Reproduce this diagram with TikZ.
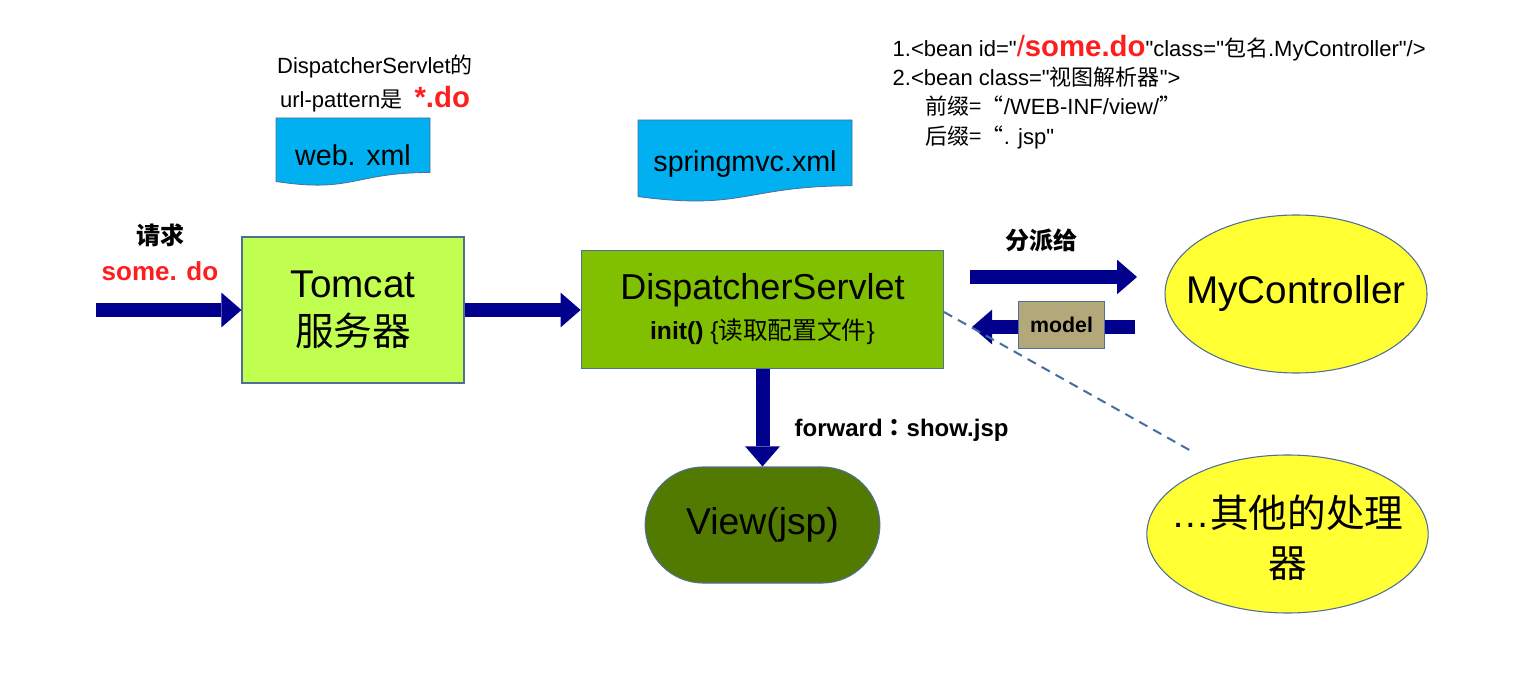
\documentclass[tikz,border=0pt]{standalone}
\usepackage{fontspec}
\setmainfont{Liberation Sans}[Ligatures=TeXOff]
\newfontfamily\cjk{Noto Sans CJK SC}
\newfontfamily\cjktc{Noto Sans CJK TC}
\usetikzlibrary{arrows.meta,shapes.geometric}
\definecolor{navy}{RGB}{0,0,140}
\definecolor{doccyan}{RGB}{0,176,240}
\definecolor{tomgreen}{RGB}{192,255,80}
\definecolor{dsgreen}{RGB}{128,192,0}
\definecolor{viewgreen}{RGB}{82,122,0}
\definecolor{ctrlyellow}{RGB}{255,255,51}
\definecolor{modeltan}{RGB}{178,168,122}
\definecolor{edgeblue}{RGB}{80,110,150}
\definecolor{dashblue}{RGB}{70,110,160}
\definecolor{redtxt}{RGB}{255,30,30}
\newcommand{\fs}[1]{\fontsize{#1}{#1}\selectfont}
\newcommand{\fsb}[2]{\fontsize{#1}{#2}\selectfont}
\begin{document}
\begin{tikzpicture}[x=0.75pt,y=-0.75pt,
  flow/.style={draw=navy,line width=10.5pt,-{Triangle[width=26pt,length=15pt,line width=0pt]}},
  boxstyle/.style={draw=edgeblue,line width=0.8pt,inner sep=0pt,align=center},
  docstyle/.style={draw=edgeblue,line width=0.6pt,fill=doccyan},
  ell/.style={ellipse,draw=edgeblue,line width=0.8pt,fill=ctrlyellow,inner sep=0pt}]
\useasboundingbox (0,0) rectangle (1533,673);
\fill[white] (0,0) rectangle (1533,673);

% documents
\draw[docstyle] (276,118) -- (430,118) -- (430,172.5) .. controls (353,172.5) and (353,193.3) .. (276,181.5) -- cycle;
\node (webtxt) at (353,155) {\fs{21.5}web. xml};
\draw[docstyle] (638,120) -- (852,120) -- (852,185.8) .. controls (745,185.8) and (745,210.8) .. (638,196.6) -- cycle;
\node (springtxt) at (745,164) {\fs{21.5}springmvc.xml};

% labels top
\node (dsl1) at (375,67) {\fs{16.5}DispatcherServlet{\cjk 的}};
\node (dsl2) at (375,99) {\fs{16.5}url-pattern{\cjk 是}\ \ {\fs{22}\bfseries\color{redtxt}*.do}};

\node[anchor=west] (b1) at (888,48) {\fs{16.5}1.<bean id="{\fs{22}\color{redtxt}/\bfseries some.do}"class="{\cjk 包名}.MyController"/>};
\node[anchor=west] (b2) at (888,77) {\fs{16.5}2.<bean class="{\cjk 视图解析器}">};
\node[anchor=west] (b3) at (921,106) {\fs{16.5}{\cjk 前缀=“}/WEB-INF/view/{\cjk ”}};
\node[anchor=west] (b4) at (921,137) {\fs{16.5}{\cjk 后缀=“}. jsp"};

% main nodes
\node[boxstyle,fill=tomgreen,minimum width=166.5pt,minimum height=109.5pt,font=\fsb{29}{36}] (tom) at (353,310)
  {Tomcat\\{\cjk 服务器}};
\node[boxstyle,fill=dsgreen,minimum width=272pt,minimum height=89pt,font=\fsb{27}{30}] (ds) at (762.5,309.5)
  {DispatcherServlet\\{\fs{18.5}\bfseries init()\ }{\fs{18.5}\{{\cjk 读取配置文件}\}}};
\node[boxstyle,fill=viewgreen,minimum width=176pt,minimum height=87pt,rounded corners=43.5pt,font=\fs{28}] (view) at (762.5,525)
  {View(jsp)};
\node[ell,minimum width=196.5pt,minimum height=118.5pt] (ctrl) at (1296,294) {};
\node[font=\fs{29}] (ctrltxt) at (ctrl.center) {MyController};
\node[ell,minimum width=211pt,minimum height=118.5pt] (other) at (1287.5,534) {};
\node[align=center,font=\fsb{29}{37.5}] (othertxt) at ([yshift=-3pt]other.center) {…{\cjk 其他的处理}\\{\cjk 器}};

% request arrow
\coordinate (reqstart) at (96,310);
\node (req1) at (160,235) {\cjk\fs{18}\bfseries 请求};
\node (req2) at (160,271) {\fs{19.5}\bfseries\color{redtxt}some. do};
\draw[flow] (reqstart) -- (tom.west);
\draw[flow] (tom.east) -- (tom.east -| ds.west);
\draw[flow] (ds.south) -- (view.north);
\node[anchor=west] (fwd) at (790,430) {\fs{18}\bfseries forward{\cjktc ：}show.jsp};

% dispatch arrows
\coordinate (d1s) at (970,277);
\coordinate (d1e) at (1137,277);
\draw[flow] (d1s) -- (d1e);
\node (disp) at (1041,240) {\cjk\fs{18}\bfseries 分派给};
\coordinate (d2s) at (1135,327);
\coordinate (d2e) at (972,327);
\draw[flow] (d2s) -- (d2e);
\coordinate (dashs) at (944,312);
\coordinate (dashe) at (1193,452);
\draw[dashblue,line width=1.5pt,dash pattern=on 7pt off 5pt] (dashs) -- (dashe);
\node[boxstyle,fill=modeltan,minimum width=65pt,minimum height=35pt] (model) at (1061.5,325) {\fs{16}\bfseries model};
\end{tikzpicture}
\end{document}
